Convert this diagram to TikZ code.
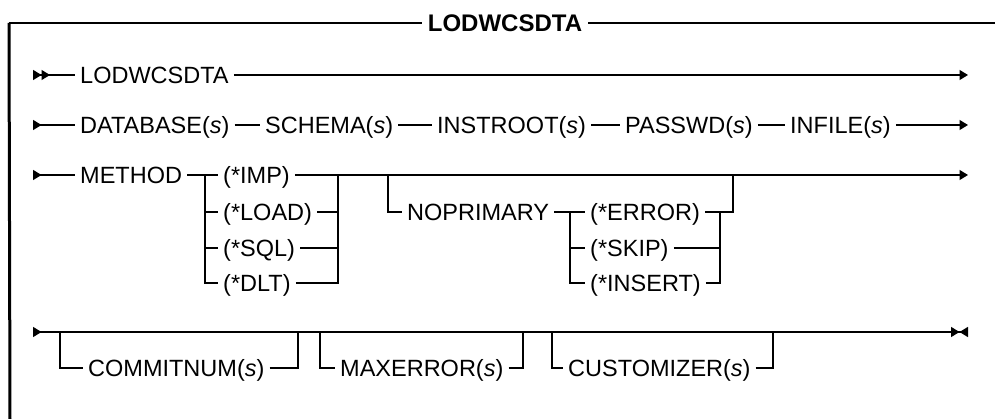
\documentclass[tikz,border=0pt]{standalone}
\usepackage{fontspec}
\setmainfont{Liberation Sans}
\usetikzlibrary{arrows.meta}

\newcommand{\rrvar}{\textit{s}\/}

\begin{document}
\begin{tikzpicture}[x=1pt, y=-1pt,
  >={Triangle[length=8.5pt,width=10pt,sep=0pt]},
  rail/.style={line width=1.4pt},
  kw/.style={anchor=west, inner xsep=5pt, inner ysep=0pt,
    text height=16.8pt, text depth=0pt, font=\fontsize{23.5}{27}\selectfont},
  heading/.style={inner xsep=6pt, inner ysep=0pt,
    text height=17pt, text depth=0pt, font=\fontsize{24}{28}\selectfont\bfseries}]
\useasboundingbox (0,0) rectangle (995,419);
% Frame with heading
\node[heading] (hd) at (505,23) {LODWCSDTA};
\coordinate (fTL) at (9,23);
\coordinate (fBL) at (10,419);
\coordinate (fTR) at (995,23);
\draw[line width=1.8pt] (fTL) -- (hd) -- (fTR);
\draw[line width=3pt] (fTL) -- (fBL);
% Row 1
\coordinate (r1s) at (33,75);
\coordinate (r1e) at (968,75);
\node[kw] (lod) at (75,75) {LODWCSDTA};
\draw[rail, >>-] (r1s) -- (lod);
\draw[rail, ->] (lod) -- (r1e);
% Row 2
\coordinate (r2s) at (33,125);
\coordinate (r2e) at (968,125);
\node[kw] (db) at (75,125) {DATABASE(\rrvar)};
\node[kw] (sch) at (260,125) {SCHEMA(\rrvar)};
\node[kw] (inst) at (432,125) {INSTROOT(\rrvar)};
\node[kw] (pwd) at (620,125) {PASSWD(\rrvar)};
\node[kw] (inf) at (785,125) {INFILE(\rrvar)};
\draw[rail, >-] (r2s) -- (db);
\draw[rail] (db) -- (sch) -- (inst) -- (pwd) -- (inf);
\draw[rail, ->] (inf) -- (r2e);
% Row 3: METHOD choices
\coordinate (r3s) at (33,175);
\coordinate (r3e) at (968,175);
\node[kw] (meth) at (75,175) {METHOD};
\coordinate (mA) at (205,175);
\node[kw] (imp) at (218,175) {(*IMP)};
\node[kw] (load) at (218,212) {(*LOAD)};
\node[kw] (sql) at (218,248) {(*SQL)};
\node[kw] (dlt) at (218,283) {(*DLT)};
\coordinate (mB) at (338,175);
\draw[rail, >-] (r3s) -- (meth);
\draw[rail] (meth) -- (mA) -- (imp);
\draw[rail, ->] (imp) -- (r3e);
\draw[rail] (mA) |- (load) (mA) |- (sql) (mA) |- (dlt);
\draw[rail] (load) -| (mB) (sql) -| (mB) (dlt) -| (mB);
% Row 3: optional NOPRIMARY
\coordinate (nA) at (388,175);
\node[kw] (nopri) at (402,212) {NOPRIMARY};
\coordinate (nB) at (570,212);
\node[kw] (err) at (585,212) {(*ERROR)};
\node[kw] (skip) at (585,248) {(*SKIP)};
\node[kw] (insr) at (585,283) {(*INSERT)};
\coordinate (nD) at (720,212);
\coordinate (nC) at (733,175);
\draw[rail] (nA) |- (nopri);
\draw[rail] (nopri) -- (nB) -- (err);
\draw[rail] (nB) |- (skip) (nB) |- (insr);
\draw[rail] (err) -| (nC);
\draw[rail] (skip) -| (nD) (insr) -| (nD);
% Row 4: optional parameters
\coordinate (r4s) at (33,332);
\coordinate (r4e) at (968,332);
\draw[rail, >-><] (r4s) -- (r4e);
\coordinate (cA) at (60,332);
\node[kw] (cmt) at (83,368) {COMMITNUM(\rrvar)};
\coordinate (cB) at (298,332);
\draw[rail] (cA) |- (cmt);
\draw[rail] (cmt) -| (cB);
\coordinate (xA) at (320,332);
\node[kw] (mxe) at (335,368) {MAXERROR(\rrvar)};
\coordinate (xB) at (523,332);
\draw[rail] (xA) |- (mxe);
\draw[rail] (mxe) -| (xB);
\coordinate (uA) at (552,332);
\node[kw] (cst) at (563,368) {CUSTOMIZER(\rrvar)};
\coordinate (uB) at (773,332);
\draw[rail] (uA) |- (cst);
\draw[rail] (cst) -| (uB);
\end{tikzpicture}
\end{document}
